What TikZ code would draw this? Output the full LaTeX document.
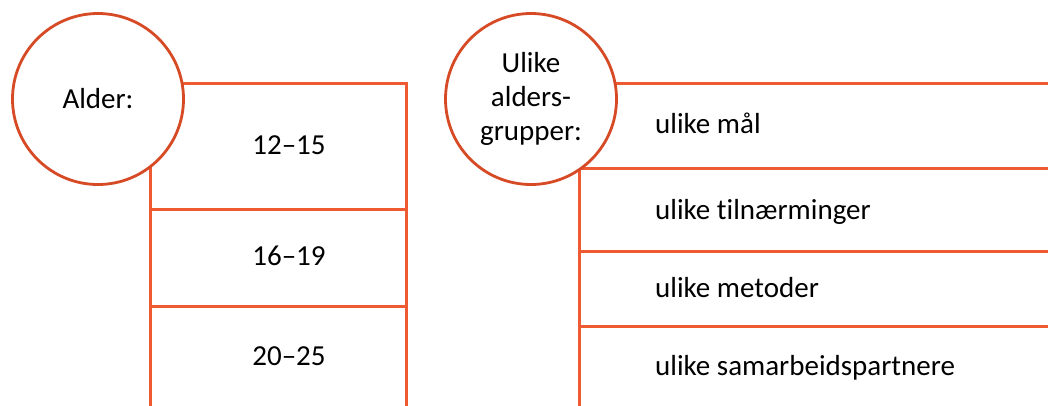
\documentclass[tikz,border=0pt]{standalone}
\usepackage{fontspec}
\setmainfont{Carlito}[Ligatures=NoCommon]
\definecolor{circc}{HTML}{D64A26}
\definecolor{boxc}{HTML}{EE5A32}
\begin{document}
\begin{tikzpicture}[x=1pt,y=-1pt,
  cell/.style={draw=boxc,line width=2.6pt,inner sep=0pt,anchor=north west},
  head/.style={circle,draw=circc,line width=2.8pt,fill=white,minimum size=171pt,inner sep=0pt,align=center,font=\fontsize{29}{34}\selectfont},
  lbl/.style={inner sep=0pt,font=\fontsize{29}{34}\selectfont}]
\useasboundingbox (0,0) rectangle (1048,405);
\clip (0,0) rectangle (1048,405);
% left column
\node[cell,minimum width=256pt,minimum height=126pt] (a1) at (149,82) {};
\node[cell,minimum width=256pt,minimum height=97pt] (a2) at (149,208) {};
\node[cell,minimum width=256pt,minimum height=115pt] (a3) at (149,305) {};
\node[lbl,anchor=base] (t1) at (289,154) {12–15};
\node[lbl,anchor=base] (t2) at (289,265.5) {16–19};
\node[lbl,anchor=base] (t3) at (289,365) {20–25};
\node[head] (c1) at (98,99) {Alder:};
% right column
\node[cell,minimum width=500pt,minimum height=85pt] (b1) at (578,82) {};
\node[cell,minimum width=500pt,minimum height=83pt] (b2) at (578,167) {};
\node[cell,minimum width=500pt,minimum height=75pt] (b3) at (578,250) {};
\node[cell,minimum width=500pt,minimum height=95pt] (b4) at (578,325) {};
\node[lbl,anchor=base west] (u1) at (655,133) {ulike mål};
\node[lbl,anchor=base west] (u2) at (655,219) {ulike tilnærminger};
\node[lbl,anchor=base west] (u3) at (655,297) {ulike metoder};
\node[lbl,anchor=base west] (u4) at (655,375) {ulike samarbeidspartnere};
\node[head] (c2) at (531,99) {Ulike\\alders-\\grupper:};
\end{tikzpicture}
\end{document}
